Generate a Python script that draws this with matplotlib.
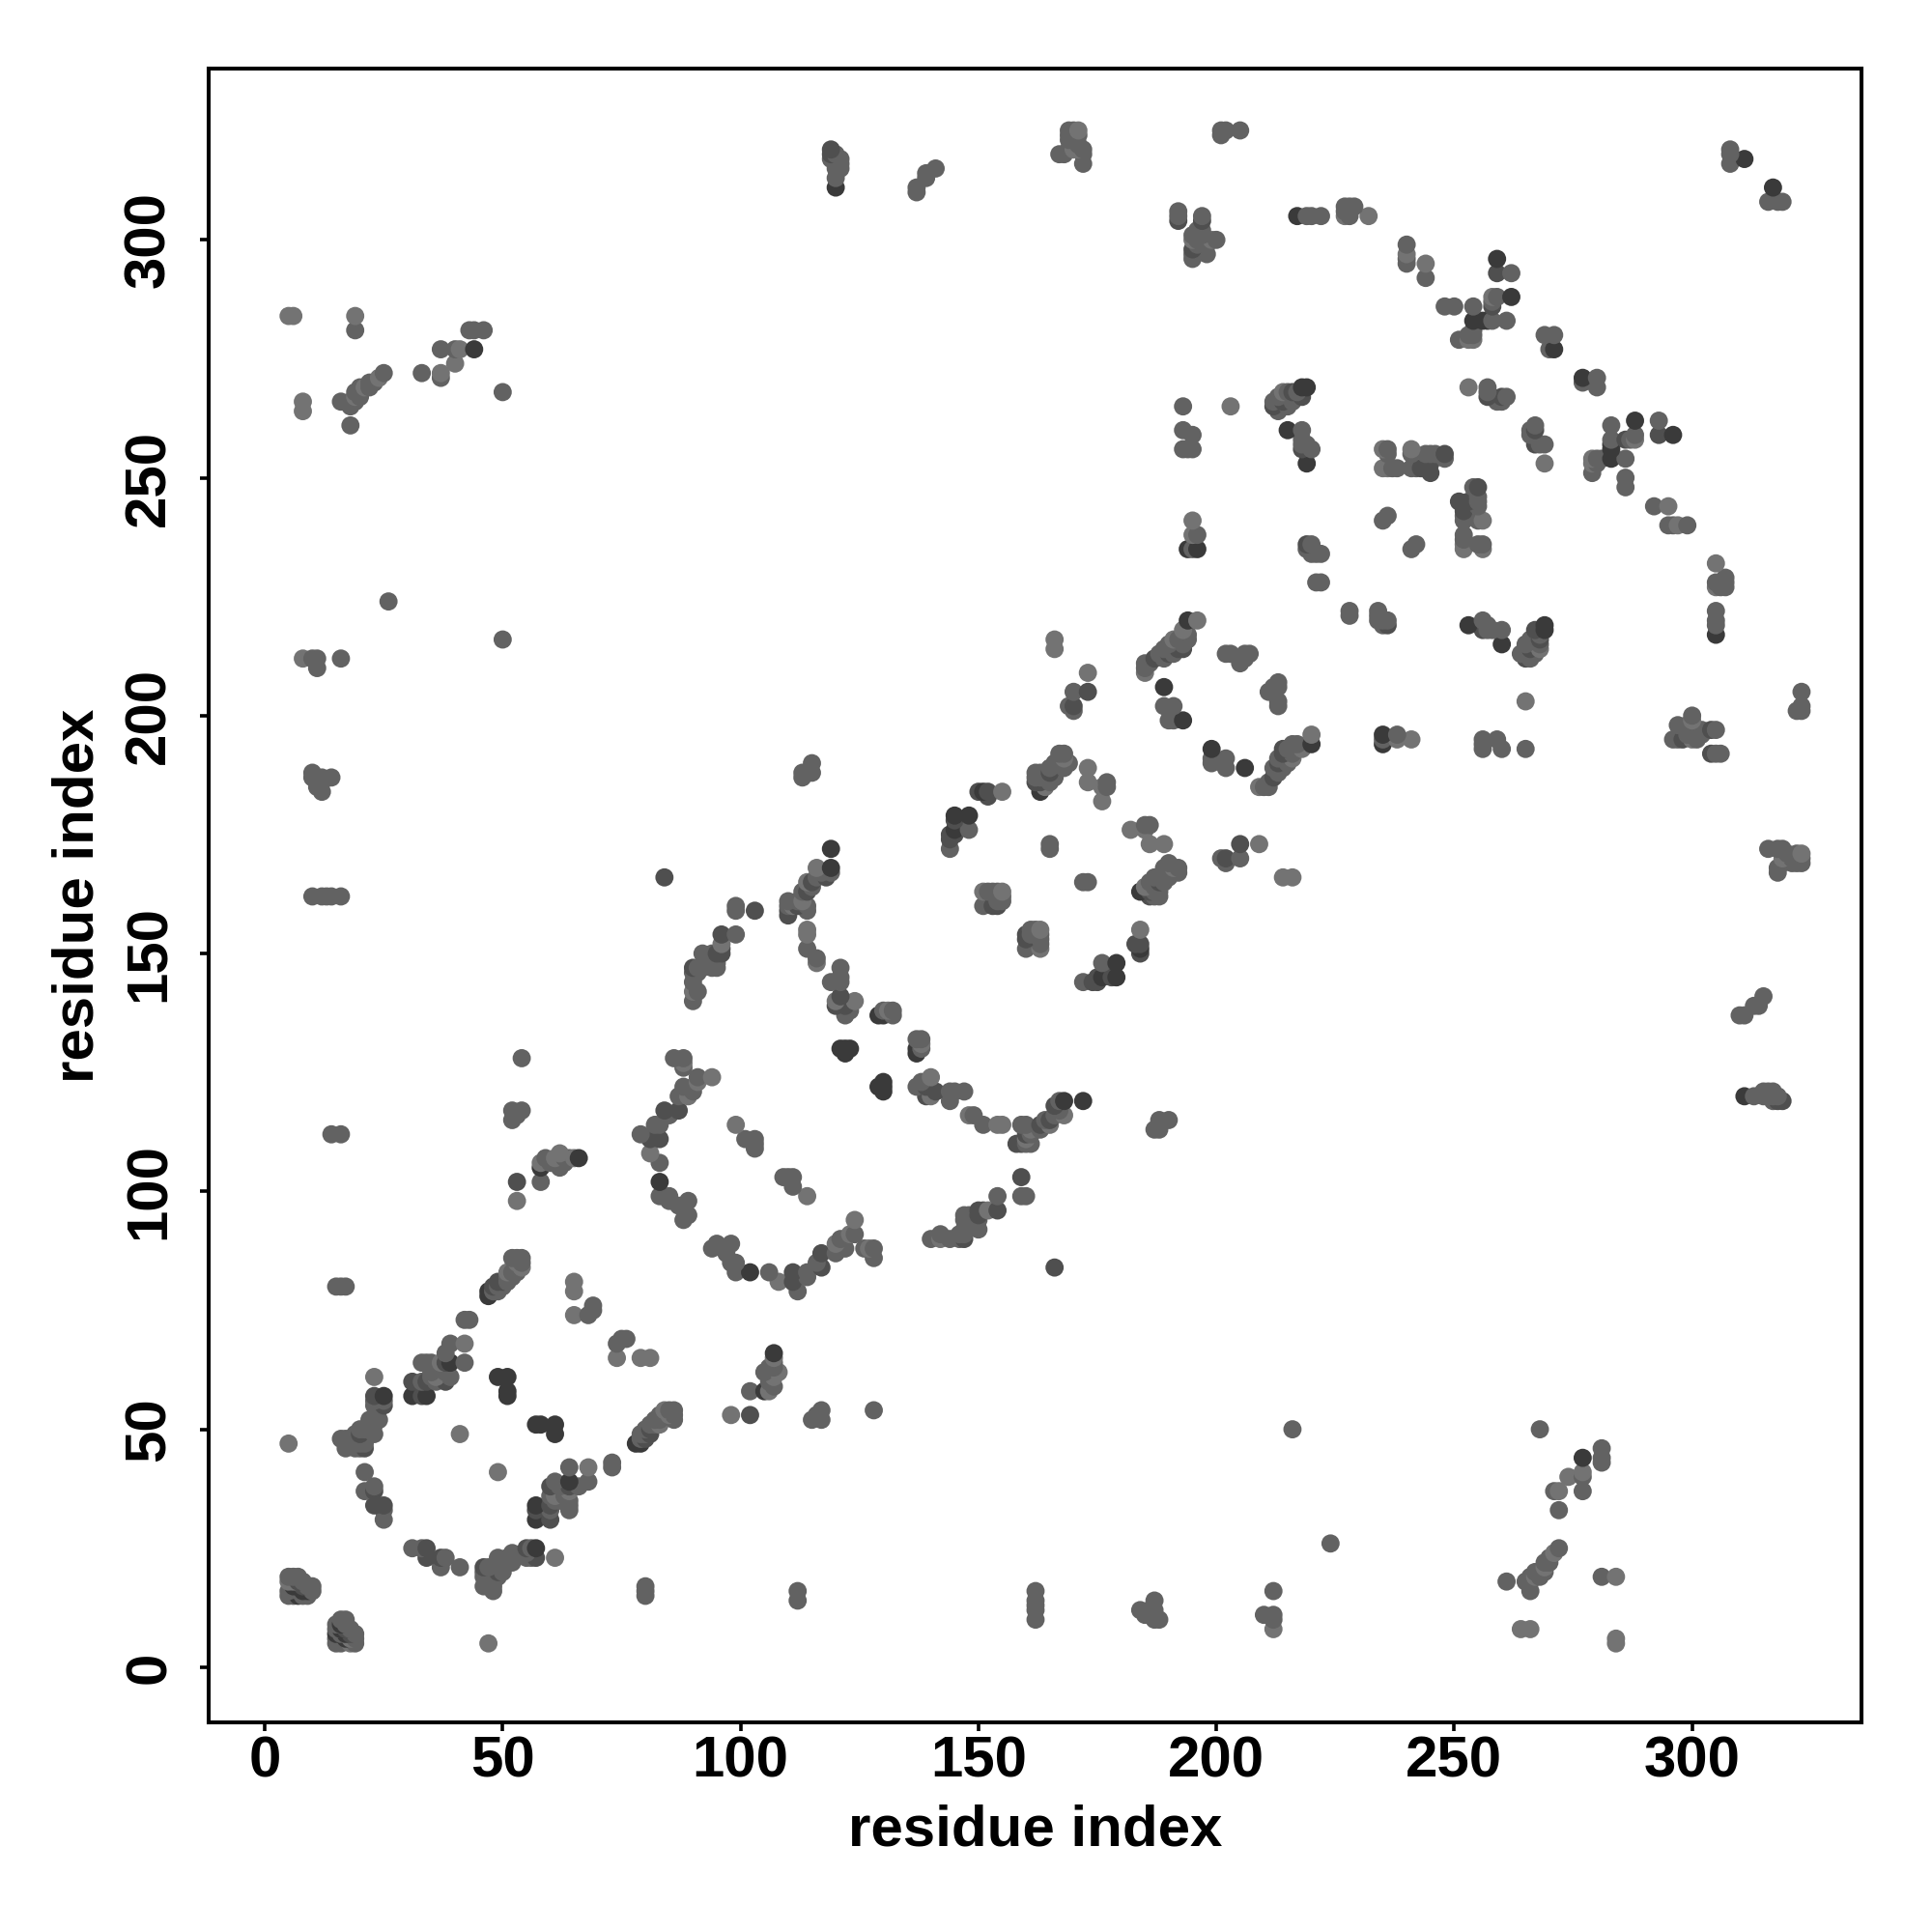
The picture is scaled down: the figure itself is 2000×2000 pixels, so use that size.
"""Residue contact map, mirrored about the diagonal."""

import numpy as np
import matplotlib
matplotlib.use('Agg')
import matplotlib.pyplot as plt

plt.rcParams['font.family'] = ['Liberation Sans', 'DejaVu Sans']

# contacts as (i, j) with i < j, the map holds each one twice
contacts_mid = [
    (5, 15), (5, 16), (5, 18), (5, 19), (6, 15), (6, 18), (6, 19), (7, 15), (7, 16), (7, 18), (8, 15), (8, 17), (8, 18), (9, 15), (9, 16), (10, 16),
    (15, 5), (15, 6), (15, 8), (16, 7), (16, 8), (16, 10), (17, 6), (17, 8), (17, 9), (17, 10), (18, 5), (18, 6), (18, 8), (19, 5), (19, 6), (19, 7),
    (16, 48), (17, 48), (17, 47), (18, 47), (18, 48), (17, 46), (19, 46), (19, 47), (19, 48), (19, 49), (20, 46), (20, 47), (20, 49), (20, 50), (21, 46), (21, 47), (21, 50), (22, 50), (22, 51), (22, 52),
    (23, 49), (23, 51), (23, 52), (23, 55), (23, 56), (23, 57), (24, 52), (24, 55), (25, 55), (25, 56), (23, 61),
    (21, 41), (21, 37), (23, 38), (23, 37), (23, 34), (25, 34), (25, 33), (25, 31),
    (31, 60), (33, 57), (33, 60), (34, 60), (36, 60), (38, 60), (35, 61), (36, 61), (39, 61), (34, 64), (35, 64), (37, 64), (38, 64), (42, 64), (39, 68), (42, 68), (36, 63), (37, 63), (38, 62), (35, 62), (38, 66), (33, 64),
    (42, 73), (43, 73), (41, 49),
    (48, 79), (48, 80), (49, 79), (49, 80), (50, 80), (50, 81), (51, 81), (51, 82), (51, 83), (52, 82), (52, 83), (53, 83), (53, 84), (53, 85), (54, 84), (54, 85), (54, 86), (52, 86), (53, 86),
    (68, 74), (69, 75), (69, 76), (15, 80), (16, 80), (17, 80), (14, 112), (16, 112),
    (58, 102), (58, 106), (59, 107), (60, 106), (61, 106), (61, 107), (62, 108), (62, 105), (63, 106), (63, 107), (64, 107), (65, 107),
    (52, 117), (52, 115), (54, 117), (53, 116), (54, 128),
    (86, 128), (88, 128), (88, 126), (91, 124), (94, 124), (88, 122), (87, 120), (90, 121), (87, 117), (84, 117), (82, 114), (79, 112), (83, 111), (81, 111), (81, 108), (83, 106), (83, 99), (85, 98), (89, 98), (89, 95), (88, 94),
    (85, 99), (87, 97), (83, 114), (85, 116), (89, 120), (91, 123), (88, 127), (103, 111), (103, 110), (103, 109), (101, 111),
    (99, 160), (99, 159), (99, 154), (96, 154), (96, 150), (92, 150), (95, 147), (90, 147), (90, 146), (90, 144), (90, 140), (91, 142), (90, 142), (94, 150), (96, 151), (96, 152), (95, 150), (91, 146), (91, 147), (95, 148), (92, 147), (94, 147),
    (113, 188), (113, 187), (114, 188), (115, 188), (115, 190),
    (119, 167), (118, 166), (116, 168), (117, 167), (116, 166), (115, 165), (115, 164), (114, 165), (114, 163), (113, 163), (113, 161), (114, 160), (114, 159), (112, 161), (112, 160), (111, 160), (110, 161), (110, 160), (110, 159), (110, 158),
    (114, 151), (116, 149), (119, 144), (121, 147), (121, 145), (121, 144), (121, 141), (120, 139), (124, 140), (122, 137), (122, 139), (123, 138), (120, 140),
    (131, 138), (132, 138), (130, 138), (137, 132), (138, 132), (138, 131), (129, 137), (130, 137),
    (144, 172), (148, 176), (152, 163), (153, 163), (154, 163), (155, 163), (151, 163), (151, 160), (155, 161), (154, 161), (155, 162),
    (161, 155), (162, 155), (163, 155), (160, 151), (163, 151), (163, 153), (163, 154), (165, 173), (165, 172),
    (162, 187), (163, 184), (163, 186), (164, 187), (164, 185), (165, 188), (165, 189), (166, 190), (167, 191), (168, 191), (168, 189), (169, 190), (162, 188), (163, 188),
    (173, 186), (177, 186), (177, 185), (176, 182), (176, 185), (165, 186), (166, 187), (162, 186), (163, 187), (167, 192), (168, 192),
    (170, 205), (169, 202), (170, 202), (170, 201), (173, 205),
    (193, 218), (193, 217), (193, 215), (193, 214), (192, 216), (191, 216), (190, 215), (190, 213), (189, 214), (189, 212), (188, 213), (187, 212), (186, 211), (185, 211), (185, 210), (185, 209), (192, 214), (191, 213), (194, 217), (194, 216),
    (202, 213), (203, 213), (206, 212), (207, 213), (205, 211), (206, 213), (212, 206), (213, 207), (211, 205), (213, 203), (213, 202),
    (189, 202), (191, 202), (190, 199), (191, 199), (199, 191), (202, 191), (202, 189),
    (195, 235), (195, 238), (196, 238), (221, 228), (222, 228), (221, 234), (222, 234), (220, 236), (219, 236), (219, 235), (220, 235), (220, 234),
    (192, 306), (192, 305), (192, 304), (197, 305), (197, 304), (197, 302), (197, 301), (195, 301), (195, 300), (195, 298), (195, 297), (196, 300), (198, 297), (200, 300), (199, 300), (196, 299), (198, 299), (195, 296), (196, 302),
    (219, 305), (220, 305), (222, 305), (227, 307), (227, 306), (227, 305), (229, 307), (228, 306),
    (240, 299), (240, 296), (240, 295), (244, 295), (244, 292), (259, 296), (259, 293), (262, 293), (258, 288), (259, 288), (258, 287), (258, 286), (254, 286), (248, 286), (250, 286), (258, 283), (261, 283), (251, 279), (253, 279), (254, 279), (254, 280),
    (269, 280), (271, 280), (270, 277), (277, 270), (280, 271), (280, 269), (253, 269), (257, 269), (257, 268), (257, 267), (260, 267), (261, 267), (259, 266),
    (193, 265), (218, 267), (216, 268), (215, 268), (214, 268), (214, 266), (213, 267), (212, 266), (212, 265), (213, 264), (215, 265), (217, 268), (216, 266),
    (218, 260), (219, 257), (218, 257), (218, 256), (220, 256), (193, 260), (195, 259), (194, 256), (195, 256), (193, 256),
    (267, 261), (267, 260), (266, 260), (267, 257), (269, 257), (283, 261), (283, 258), (288, 258), (286, 258), (293, 262), (293, 259), (283, 254), (286, 254), (279, 254), (279, 251), (281, 254), (280, 253), (286, 250), (286, 248),
    (235, 256), (236, 256), (241, 256), (241, 255), (245, 255), (246, 255), (248, 255), (248, 254), (235, 252), (237, 252), (238, 252), (241, 252), (243, 252), (245, 251), (245, 253), (244, 255), (242, 252),
    (254, 248), (255, 248), (251, 245), (253, 245), (255, 245), (252, 243), (252, 241), (256, 241), (252, 238), (252, 237), (252, 236), (252, 235), (255, 236), (256, 236), (256, 235),
    (292, 244), (295, 244), (295, 240), (297, 240), (299, 240), (235, 241), (236, 242), (242, 236), (241, 235), (256, 218), (258, 218), (256, 220), (218, 258),
    (229, 307), (228, 305), (228, 307), (222, 305), (220, 305),
    (205, 323), (201, 323), (201, 322), (202, 323), (308, 316), (308, 318), (308, 319),
    (120, 315), (121, 316), (120, 316), (120, 317), (120, 318), (121, 315), (120, 313), (121, 317), (119, 317),
    (137, 310), (137, 311), (139, 313), (141, 315), (139, 314),
    (172, 316), (172, 319), (168, 318), (167, 318), (169, 322), (171, 323), (170, 323), (171, 322), (171, 319), (170, 319), (169, 319), (169, 323), (169, 321), (170, 321), (171, 320), (172, 318),
    (18, 266), (18, 265), (19, 268), (19, 267), (20, 269), (21, 269), (22, 270), (23, 270), (24, 271), (25, 272), (19, 266), (20, 268), (20, 267), (22, 269), (16, 266), (18, 261),
    (33, 272), (37, 277), (37, 272), (37, 271), (40, 274), (40, 277), (41, 277), (44, 281), (43, 281), (46, 281), (50, 268), (19, 281),
    (10, 212), (11, 212), (11, 210), (16, 212), (10, 188), (10, 187), (11, 186), (11, 185), (12, 184), (12, 187), (12, 186), (14, 187), (11, 187),
    (10, 162), (12, 162), (13, 162), (14, 162), (16, 162), (26, 224), (50, 216),
]

contacts_light = [
    (5, 47), (5, 284), (6, 284), (8, 266), (8, 264), (8, 212), (19, 284), (49, 41), (65, 81), (65, 79), (65, 74), (53, 98),
    (99, 114), (114, 155), (114, 154), (116, 148), (103, 159), (155, 184), (173, 189), (173, 209), (166, 216), (166, 214),
    (203, 265), (269, 253), (196, 220), (232, 305), (241, 195), (238, 195), (235, 196), (176, 182), (185, 176), (182, 176),
    (186, 173), (189, 173), (209, 173), (23, 61), (58, 106), (65, 107), (227, 305), (94, 124),
    (19, 267), (21, 269), (24, 271), (37, 272), (40, 274), (41, 277), (42, 68), (37, 64), (36, 61), (5, 18), (6, 18),
    (53, 85), (54, 84), (51, 83), (61, 107), (62, 108), (81, 108), (88, 127), (91, 123), (89, 120), (96, 152), (90, 142),
    (111, 160), (113, 161), (116, 168), (114, 165), (120, 140), (124, 140), (131, 138), (151, 163), (155, 163), (163, 155),
    (164, 185), (168, 191), (191, 216), (193, 218), (185, 209), (214, 268), (195, 300), (199, 300), (258, 288), (254, 279),
    (253, 279), (235, 252), (241, 256), (252, 236), (256, 235), (295, 244), (297, 240), (171, 319), (171, 323), (170, 319),
]

contacts_semi = [
    (31, 60), (34, 60), (23, 57), (25, 55), (48, 80), (49, 81), (50, 81), (8, 17), (7, 18), (16, 8), (17, 8), (90, 147), (95, 150),
    (96, 150), (96, 154), (81, 111), (83, 111), (87, 117), (84, 117), (112, 160), (114, 163), (115, 165), (118, 166), (110, 158),
    (110, 159), (162, 186), (163, 186), (165, 188), (187, 212), (190, 213), (192, 214), (193, 214), (212, 265), (214, 266),
    (216, 268), (218, 267), (219, 236), (197, 304), (195, 298), (192, 304), (267, 260), (283, 254), (245, 251), (245, 253),
    (252, 243), (251, 245), (21, 46), (20, 49), (23, 37), (25, 34), (23, 34), (38, 60), (38, 64), (33, 57), (96, 151), (121, 141),
    (120, 139), (122, 139), (248, 255), (267, 257), (286, 258), (293, 259), (218, 256), (163, 184), (173, 205), (170, 202),
    (150, 184), (152, 183), (152, 184), (144, 175), (145, 178), (144, 174), (119, 318), (119, 319), (160, 153), (160, 154), (154, 160),
    (84, 166), (145, 175), (53, 102), (159, 103),
]

contacts_dark = [
    (119, 172), (83, 102), (102, 83), (51, 57), (51, 58), (51, 61), (49, 61), (25, 57), (39, 64), (34, 57), (31, 57),
    (66, 107), (58, 105), (122, 130), (123, 130), (121, 130), (130, 123), (130, 122), (129, 122), (194, 220), (189, 206),
    (193, 199), (199, 193), (206, 189), (217, 305), (254, 283), (256, 283), (271, 277), (277, 271), (283, 257), (288, 262), (296, 259),
    (215, 260), (219, 253), (219, 269), (218, 269), (253, 219), (145, 179), (148, 179), (145, 176), (196, 235), (194, 235), (44, 277),
    (311, 317), (120, 311), (137, 129), (137, 130), (151, 184), (47, 78), (47, 79), (8, 16), (6, 17), (15, 7), (16, 9), (17, 7),
    (262, 288), (119, 168), (184, 163),
]

tick_values = [0, 50, 100, 150, 200, 250, 300]
axis_label = 'residue index'

# grey per contact, a later list wins over an earlier one
shades = {}
for pairs, grey in [(contacts_mid, '#626262'), (contacts_light, '#737373'), (contacts_semi, '#4f4f4f'), (contacts_dark, '#3a3a3a')]:
    for a, b in pairs:
        shades[(min(a, b), max(a, b))] = grey
        shades[(max(a, b), min(a, b))] = grey

points = sorted(shades, key=lambda p: (p[1], p[0]))
xs = np.array([p[0] for p in points])
ys = np.array([p[1] for p in points])
colors = [shades[p] for p in points]

fig = plt.figure(figsize=(10, 10), dpi=200)
ax = fig.add_axes([0.108, 0.1085, 0.8555, 0.856])
ax.scatter(xs, ys, s=46, c=colors, linewidths=0)

ax.set_xlim(-11.8, 335.6)
ax.set_ylim(-11.6, 336)
ax.set_xticks(tick_values)
ax.set_yticks(tick_values)
ax.tick_params(length=3.4, width=1.3, labelsize=21.6)
ax.tick_params(axis='x', pad=1.6)
ax.tick_params(axis='y', pad=8.6)
for label in ax.get_xticklabels():
    label.set_fontweight('bold')
for label in ax.get_yticklabels():
    label.set_fontweight('bold')
    label.set_rotation(90)
    label.set_va('center')
for side in ax.spines.values():
    side.set_linewidth(1.45)

ax.set_xlabel(axis_label, fontsize=21.6, fontweight='bold', labelpad=5.5)
ax.set_ylabel(axis_label, fontsize=21.6, fontweight='bold', labelpad=7)

fig.savefig('out.png', dpi=200)
plt.close(fig)
